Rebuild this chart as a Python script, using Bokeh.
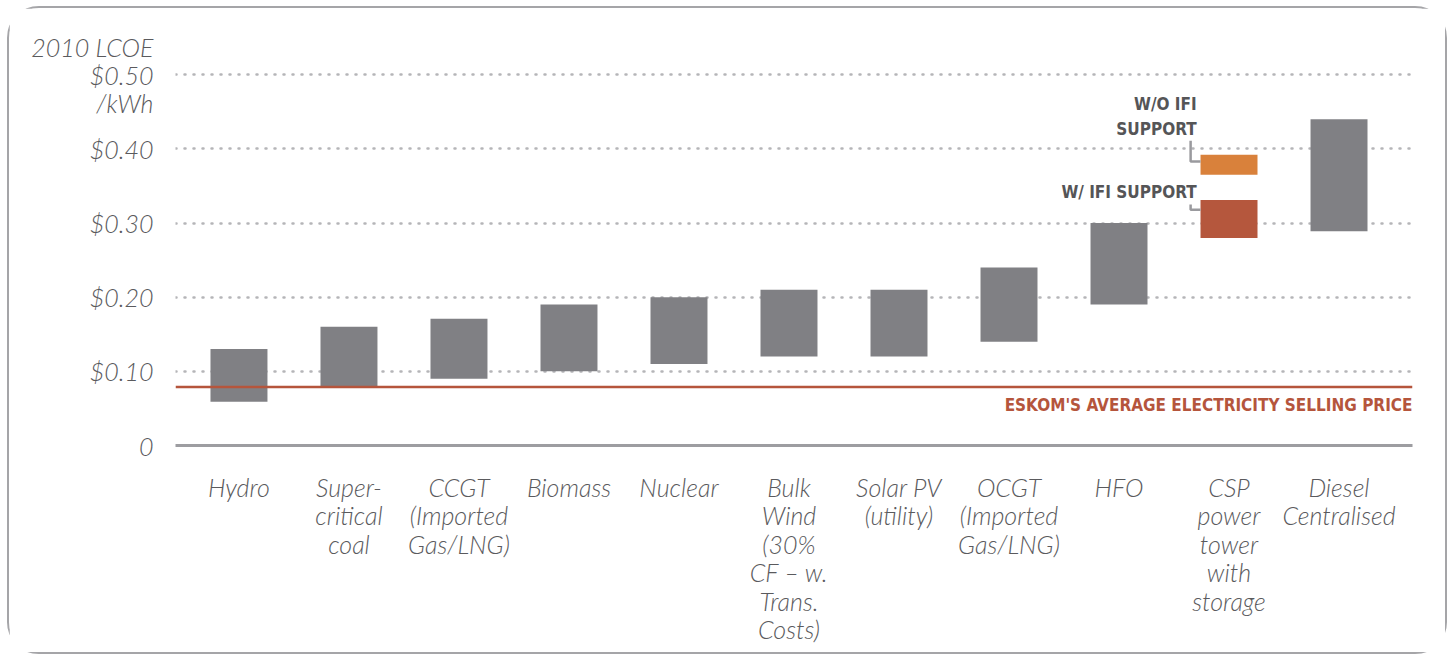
from bokeh.plotting import figure
from bokeh.models import Range1d, FixedTicker, Span, Label
from bokeh.embed import file_html
from bokeh.resources import INLINE

categories = ["Hydro", "Super-\ncritical\ncoal", "CCGT\n(Imported\nGas/LNG)", "Biomass", "Nuclear",
              "Bulk\nWind\n(30%\nCF – w.\nTrans.\nCosts)", "Solar PV\n(utility)",
              "OCGT\n(Imported\nGas/LNG)", "HFO", "CSP\npower\ntower\nwith\nstorage",
              "Diesel\nCentralised"]
low = [0.059, 0.080, 0.090, 0.100, 0.110, 0.120, 0.120, 0.140, 0.190, None, 0.289]
high = [0.130, 0.160, 0.171, 0.190, 0.200, 0.210, 0.210, 0.240, 0.300, None, 0.440]
csp_wo_ifi = (0.365, 0.392)
csp_w_ifi = (0.280, 0.331)
eskom_price = 0.079
y_ticks = [0, 0.1, 0.2, 0.3, 0.4, 0.5]
y_labels = ["0", "$0.10", "$0.20", "$0.30", "$0.40", "2010 LCOE\n$0.50\n/kWh"]

GRAY = "#808084"
TXT = "#5a5a5d"
RED = "#b5553c"
ORANGE = "#d9813b"
FONT = "Lato Light"
COND = "DejaVu Sans Condensed"

idx = list(range(len(categories)))
bar_w = 0.518

p = figure(width=1440, height=648, output_backend="svg", toolbar_location=None,
           x_range=Range1d(-0.577, len(categories) - 0.332), y_range=Range1d(0, 0.53),
           min_border_left=166, min_border_right=37, min_border_top=44, min_border_bottom=211)
p.styles = {"border": "2px solid #a5a5a8", "border-radius": "32px",
            "margin-left": "7px", "margin-top": "6px"}
p.outline_line_color = None
p.background_fill_color = "white"
p.border_fill_color = "white"

# bars
bx = [i for i in idx if low[i] is not None]
p.vbar(x=bx, bottom=[low[i] for i in bx], top=[high[i] for i in bx], width=bar_w,
       fill_color=GRAY, line_color=None)
csp = categories.index("CSP\npower\ntower\nwith\nstorage")
p.vbar(x=[csp], bottom=[csp_wo_ifi[0]], top=[csp_wo_ifi[1]], width=bar_w,
       fill_color=ORANGE, line_color=None)
p.vbar(x=[csp], bottom=[csp_w_ifi[0]], top=[csp_w_ifi[1]], width=bar_w,
       fill_color="#b5573d", line_color=None)

# connectors
cx = csp - bar_w / 2 - 0.09
p.line(x=[cx, cx, csp - bar_w / 2], y=[0.411, 0.383, 0.383], line_color="#9a9a9e", line_width=2.5)
p.line(x=[cx, cx, csp - bar_w / 2], y=[0.325, 0.318, 0.318], line_color="#9a9a9e", line_width=2.5)

for txt, yy in [("W/O IFI", 0.461), ("SUPPORT", 0.427), ("W/ IFI SUPPORT", 0.342)]:
    p.add_layout(Label(x=cx, y=yy, x_offset=6, text=txt, text_align="right", text_baseline="middle",
                       text_font=COND, text_font_style="bold", text_font_size="17px",
                       text_color="#555557"))

# eskom line
p.add_layout(Span(location=eskom_price, dimension="width", line_color=RED, line_width=2.5))
p.add_layout(Label(x=p.x_range.end, y=eskom_price, y_offset=-18, text="ESKOM'S AVERAGE ELECTRICITY SELLING PRICE",
                   text_align="right", text_baseline="middle", text_font=COND,
                   text_font_style="bold", text_font_size="17px", text_color=RED))

# axes
p.xgrid.visible = False
p.ygrid.ticker = FixedTicker(ticks=y_ticks[1:])
p.ygrid.grid_line_color = "#b5b5b8"
p.ygrid.grid_line_dash = "1 8"
p.ygrid.grid_line_width = 2.5
p.ygrid.grid_line_cap = "round"

p.yaxis.ticker = FixedTicker(ticks=y_ticks)
p.yaxis.major_label_overrides = {t: l for t, l in zip(y_ticks, y_labels)}
p.yaxis.axis_line_color = None
p.yaxis.major_tick_line_color = None
p.yaxis.minor_tick_line_color = None
p.yaxis.major_label_standoff = 16
p.yaxis.major_label_text_font = FONT
p.yaxis.major_label_text_font_style = "italic"
p.yaxis.major_label_text_font_size = "25px"
p.yaxis.major_label_text_color = TXT
p.yaxis.major_label_text_line_height = 0.93

p.xaxis.ticker = FixedTicker(ticks=idx)
p.xaxis.major_label_overrides = {i: c for i, c in zip(idx, categories)}
p.xaxis.axis_line_color = "#9d9da1"
p.xaxis.axis_line_width = 3
p.xaxis.major_tick_line_color = None
p.xaxis.minor_tick_line_color = None
p.xaxis.major_label_standoff = 20
p.xaxis.major_label_text_font = FONT
p.xaxis.major_label_text_font_style = "italic"
p.xaxis.major_label_text_font_size = "25px"
p.xaxis.major_label_text_color = TXT
p.xaxis.major_label_text_line_height = 0.95

open("out.html", "w").write(file_html(p, INLINE))
